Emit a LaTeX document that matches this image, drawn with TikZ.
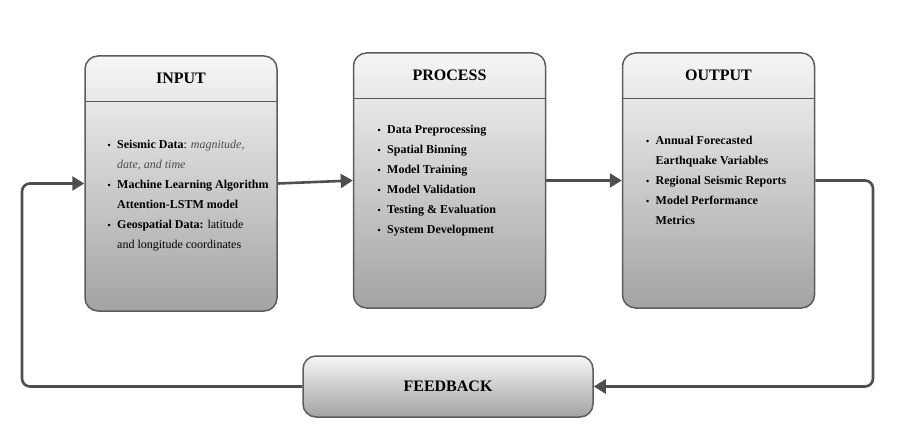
\documentclass[tikz,border=0pt]{standalone}
\usepackage{fontspec}
\setmainfont{Liberation Serif}
\usetikzlibrary{arrows.meta}
\definecolor{edgegray}{HTML}{5C5C5C}
\definecolor{flowgray}{HTML}{4E4E4E}
\definecolor{topgray}{HTML}{F6F6F6}
\definecolor{botgray}{HTML}{A3A3A3}
\newcommand\bul{\makebox[9.5pt][l]{\fontsize{9}{9}\selectfont\textbullet}}
\newcommand\ind{\hspace*{9.5pt}}
\begin{document}
\begin{tikzpicture}[x=1pt,y=-1pt,
    stage/.style={draw=edgegray,line width=1.5pt,rounded corners=13pt,
        top color=topgray,bottom color=botgray,inner sep=0pt},
    head/.style={minimum width=192pt,minimum height=46pt,inner sep=0pt,
        font=\fontsize{16}{16}\selectfont\bfseries},
    items/.style={anchor=north west,inner sep=0pt,align=left,
        font=\fontsize{12}{20}\selectfont\bfseries},
    flow/.style={draw=flowgray,line width=2.6pt,rounded corners=8pt,
        -{Triangle[length=12pt,width=14pt]}}]
\useasboundingbox (0,0) rectangle (905,436);
% the three stages
\foreach \n/\x/\y/\t in {in/181/183.5/INPUT,proc/449.5/180.5/PROCESS,out/718.5/180.5/OUTPUT} {
    \node[stage,minimum width=192pt,minimum height=255pt] (\n) at (\x,\y) {};
    \node[head,anchor=north] (\n T) at (\n.north) {\t};
    \draw[edgegray,line width=1.5pt] (\n T.south west) -- (\n T.south east);
}
\node[items] (inL) at (107.5,139.8) {\bul Seismic Data\textmd{: \textit{\color{black!70}magnitude,}}\\
    \ind\textmd{\textit{\color{black!70}date, and time}}\\
    \bul Machine Learning Algorithm\\
    \ind Attention-LSTM model\\
    \bul Geospatial Data: \textmd{latitude}\\
    \ind\textmd{and longitude coordinates}};
\node[items] (procL) at (377.5,125.3) {\bul Data Preprocessing\\
    \bul Spatial Binning\\
    \bul Model Training\\
    \bul Model Validation\\
    \bul Testing \& Evaluation\\
    \bul System Development};
\node[items] (outL) at (646,135.8) {\bul Annual Forecasted\\
    \ind Earthquake Variables\\
    \bul Regional Seismic Reports\\
    \bul Model Performance\\
    \ind Metrics};
% feedback
\node[stage,minimum width=290pt,minimum height=61pt,
    font=\fontsize{16}{16}\selectfont\bfseries] (fb) at (448,386.5) {FEEDBACK};
\coordinate (lt) at (22,0);
\coordinate (rt) at (873,0);
% connectors
\draw[flow] (in.east) -- (proc.west);
\draw[flow] (proc.east) -- (out.west);
\draw[flow] (out.east) -| (rt |- fb) -- (fb.east);
\draw[flow] (fb.west) -| (lt |- in) -- (in.west);
\end{tikzpicture}
\end{document}
